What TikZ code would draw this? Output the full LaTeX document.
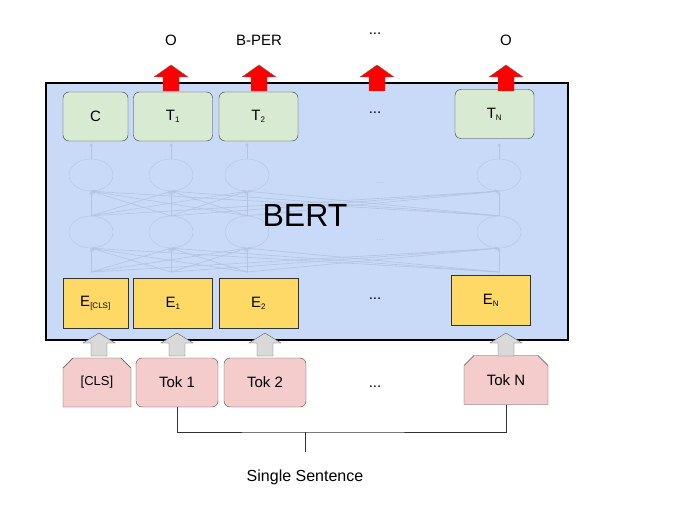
\documentclass[tikz,border=0pt]{standalone}
\usepackage{fontspec}
\setmainfont{Liberation Sans}
\usetikzlibrary{shapes.misc,shapes.geometric}
\definecolor{bertbg}{HTML}{C9DAF8}
\definecolor{tgreen}{HTML}{D9EAD3}
\definecolor{eyel}{HTML}{FFD966}
\definecolor{tokp}{HTML}{F4CCCC}
\definecolor{faint}{HTML}{B4C3DD}
\newcommand{\myuparr}[6]{% x, tip y, head base y, bottom y, half head, style
  \draw[#6] (#1,#2) -- (#1+#5,#3) -- (#1+8,#3) -- (#1+8,#4) -- (#1-8,#4) -- (#1-8,#3) -- (#1-#5,#3) -- cycle;}
\begin{document}
\begin{tikzpicture}[x=1pt,y=-1pt,
  lab/.style={font=\fontsize{15}{15}\selectfont},
  tbox/.style={draw=black!80,fill=tgreen,rounded corners=6pt,minimum width=79pt,minimum height=49pt,inner sep=0pt,lab},
  ebox/.style={draw=black!80,fill=eyel,minimum width=79pt,minimum height=50pt,inner sep=0pt,lab},
  tokr/.style={draw=black!70,fill=tokp,minimum width=82pt,minimum height=49pt,inner sep=0pt,lab},
  redarr/.style={draw=black!60,fill=red},
  grayarr/.style={draw=black!60,fill=black!15},
  neur/.style={draw=faint,ellipse,minimum width=44pt,minimum height=32pt,inner sep=0pt},
  fl/.style={draw=faint,line width=0.6pt}]
\useasboundingbox (0,0) rectangle (674,510);
\node[draw=black,line width=2pt,fill=bertbg,minimum width=522pt,minimum height=257pt,inner sep=0pt] (bert) at (307,211.5) {};
% network
\foreach \i/\x in {1/91,2/171,3/247,4/499}{
  \node[neur] (a\i) at (\x,175) {};
  \node[neur] (b\i) at (\x,232) {};
  \coordinate (p\i) at (\x,272);
  \coordinate (q\i) at (\x,143);
}
\foreach \i in {1,2,3,4}{\foreach \j in {1,2,3,4}{
  \draw[fl,-stealth] (p\i) -- (b\j.south);
  \draw[fl,-stealth] (b\i.north) -- (a\j.south);
}}
\foreach \i in {1,2,3,4}{\draw[fl,-stealth] (a\i.north) -- (q\i);}
\node[text=faint] (d1) at (380,183) {...};
\node[text=faint] (d2) at (380,240) {...};
\node[font=\fontsize{32}{32}\selectfont] (bt) at (305,215) {BERT};
% T boxes
\node[tbox,minimum width=65pt] (c) at (95.5,116.5) {C};
\node[tbox] (t1) at (173,116.5) {T$_{\mbox{\footnotesize 1}}$};
\node[tbox] (t2) at (258.5,116.5) {T$_{\mbox{\footnotesize 2}}$};
\node[lab] (td) at (375,113) {...};
\node[tbox] (tn) at (494.5,114) {T$_{\mbox{\footnotesize N}}$};
% E boxes
\node[ebox,minimum width=65pt] (ecls) at (95.5,303) {E$_{\mbox{\footnotesize [CLS]}}$};
\node[ebox] (e1) at (173,303) {E$_{\mbox{\footnotesize 1}}$};
\node[ebox] (e2) at (258.5,303) {E$_{\mbox{\footnotesize 2}}$};
\node[lab] (ed) at (375,299) {...};
\node[ebox] (en) at (491,300.5) {E$_{\mbox{\footnotesize N}}$};
% tokens
\node[tokr,chamfered rectangle,chamfered rectangle corners={north west,north east},chamfered rectangle xsep=5pt,chamfered rectangle ysep=5pt,minimum width=68pt,font=\fontsize{13}{13}\selectfont] (k0) at (97,382.5) {[CLS]};
\node[tokr,rounded corners=6pt] (k1) at (177,382.5) {Tok 1};
\node[tokr,rounded corners=6pt] (k2) at (265,382.5) {Tok 2};
\node[lab] (kd) at (375,387) {...};
\node[tokr,chamfered rectangle,chamfered rectangle corners={north west,north east},chamfered rectangle xsep=5pt,chamfered rectangle ysep=5pt,minimum width=84pt] (kn) at (506,380) {Tok N};
% gray arrows
\foreach \x in {99,177,265,506}{\myuparr{\x}{333}{343}{356}{16}{grayarr}}
% red arrows
\foreach \x in {171,259,377,506}{\myuparr{\x}{65}{77}{91}{17}{redarr}}
% labels
\node[lab] (o1) at (171,40) {O};
\node[lab] (o2) at (259,40) {B-PER};
\node[lab] (o3) at (375,34) {...};
\node[lab] (o4) at (506,40) {O};
% bracket
\coordinate (m) at (305,432);
\draw[black!80] (k1.south) |- (m) -| (kn.south);
\coordinate (ms) at (305,452);
\draw[black!80] (m) -- (ms);
\node[font=\fontsize{16}{16}\selectfont] (ss) at (305,477) {Single Sentence};
\end{tikzpicture}
\end{document}
